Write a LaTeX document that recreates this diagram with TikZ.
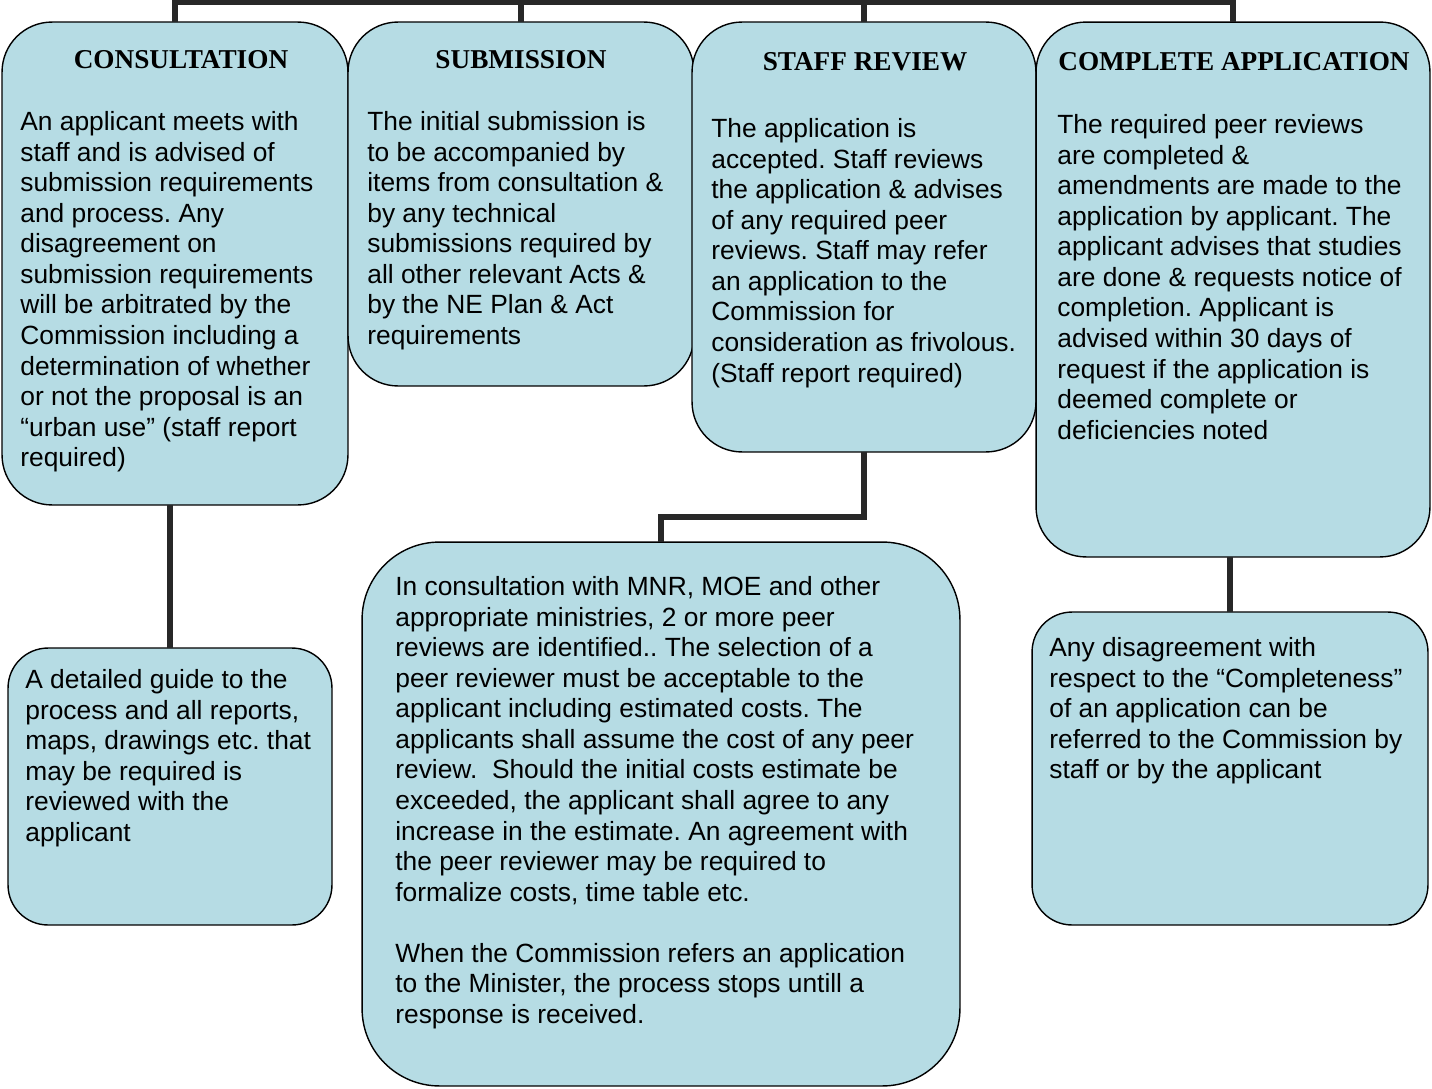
\documentclass[tikz,border=0pt]{standalone}
\usepackage{fontspec}
\setmainfont{Liberation Sans}
\newfontfamily\serifhead{Liberation Serif}
\usepackage{xcolor}
\usepackage{tikz}
\usetikzlibrary{positioning, calc}

\definecolor{boxblue}{RGB}{182,220,228}
\definecolor{linkgray}{RGB}{40,40,40}
\frenchspacing

\begin{document}
\begin{tikzpicture}[
    x=0.02cm, y=-0.02cm,
    stage/.style={draw=black, line width=0.8pt, fill=boxblue, rounded corners=1.0cm, outer sep=0pt, inner sep=0pt},
    note/.style={stage, rounded corners=0.8cm},
    bignote/.style={stage, rounded corners=1.55cm},
    head/.style={font=\serifhead\bfseries\fontsize{15.5pt}{17pt}\selectfont, inner sep=0pt},
    body/.style={anchor=north west, align=left, inner sep=0pt, font=\fontsize{15pt}{17.4pt}\selectfont},
    link/.style={line width=3.2pt, linkgray},
]
\useasboundingbox (0, 0) rectangle (1432, 1088);

% ─── Top row: four stages ───
\node[stage, minimum width=6.92cm, minimum height=9.66cm] at (175, 263.5)  (cons)  {};
\node[stage, minimum width=6.92cm, minimum height=7.28cm] at (521, 204)    (subm)  {};
\node[stage, minimum width=6.88cm, minimum height=8.60cm] at (864, 237)    (staff) {};
\node[stage, minimum width=7.88cm, minimum height=10.70cm] at (1233, 289.5) (compl) {};

\node[head] at (181, 60)  (consHead)  {CONSULTATION};
\node[head] at (521, 60)  (submHead)  {SUBMISSION};
\node[head] at (865, 62)  (staffHead) {STAFF REVIEW};
\node[head] at (1234, 62) (complHead) {COMPLETE APPLICATION};

\node[body] at (20, 111) (consText) {An applicant meets with\\staff and is advised of\\submission requirements\\and process. Any\\disagreement on\\submission requirements\\will be arbitrated by the\\Commission including a\\determination of whether\\or not the proposal is an\\“urban use” (staff report\\required)};
\node[body] at (367, 111) (submText) {The initial submission is\\to be accompanied by\\items from consultation \&\\by any technical\\submissions required by\\all other relevant Acts \&\\by the NE Plan \& Act\\requirements};
\node[body] at (711, 118) (staffText) {The application is\\accepted. Staff reviews\\the application \& advises\\of any required peer\\reviews. Staff may refer\\an application to the\\Commission for\\consideration as frivolous.\\(Staff report required)};
\node[body] at (1057, 114) (complText) {The required peer reviews\\are completed \&\\amendments are made to the\\application by applicant. The\\applicant advises that studies\\are done \& requests notice of\\completion. Applicant is\\advised within 30 days of\\request if the application is\\deemed complete or\\deficiencies noted};

% ─── Bottom row: notes ───
\node[note, minimum width=6.48cm, minimum height=5.54cm] at (170, 786.5) (guide) {};
\node[bignote, minimum width=11.96cm, minimum height=10.88cm] at (661, 814) (peer) {};
\node[note, minimum width=7.92cm, minimum height=6.26cm] at (1230, 768.5) (disag) {};

\node[body] at (25, 669) (guideText) {A detailed guide to the\\process and all reports,\\maps, drawings etc. that\\may be required is\\reviewed with the\\applicant};
\node[body] at (395, 576) (peerText) {In consultation with MNR, MOE and other\\appropriate ministries, 2 or more peer\\reviews are identified.. The selection of a\\peer reviewer must be acceptable to the\\applicant including estimated costs. The\\applicants shall assume the cost of any peer\\review.\ \ Should the initial costs estimate be\\exceeded, the applicant shall agree to any\\increase in the estimate. An agreement with\\the peer reviewer may be required to\\formalize costs, time table etc.\\[17.4pt]When the Commission refers an application\\to the Minister, the process stops untill a\\response is received.};
\node[body] at (1049, 637) (disagText) {Any disagreement with\\respect to the “Completeness”\\of an application can be\\referred to the Commission by\\staff or by the applicant};

% ─── Connectors ───
\coordinate (bar) at (0, 2);
\coordinate (elbow) at (0, 517);
\draw[link] (cons.north) -- (cons.north |- bar) -- (compl.north |- bar) -- (compl.north);
\draw[link] (subm.north) -- (subm.north |- bar);
\draw[link] (staff.north) -- (staff.north |- bar);

\draw[link] (guide.north) -- (guide.north |- cons.south);
\draw[link] (staff.south) -- (staff.south |- elbow) -| (peer.north);
\draw[link] (disag.north) -- (disag.north |- compl.south);

\end{tikzpicture}
\end{document}
